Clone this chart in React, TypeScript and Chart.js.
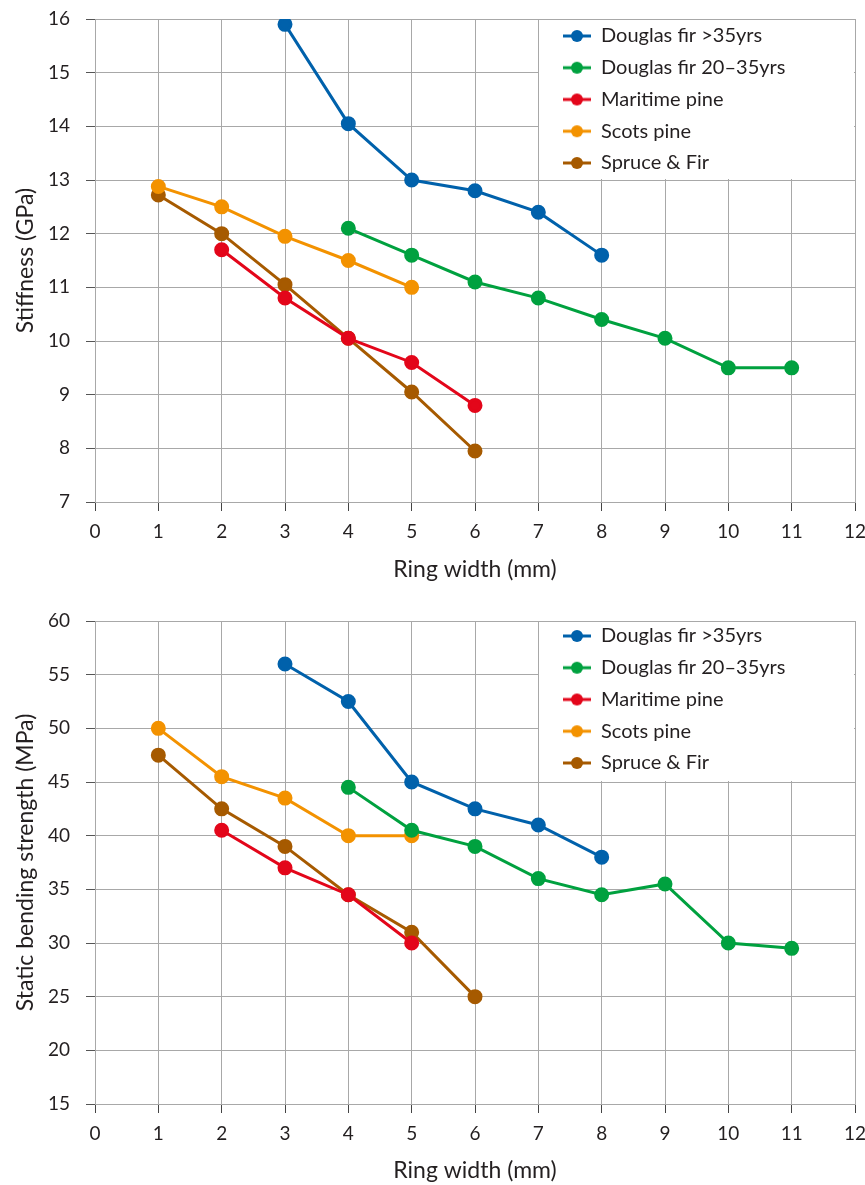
import React, { useEffect, useRef } from 'react';
import { Chart, registerables } from 'chart.js';

Chart.register(...registerables);

// ---------- data ----------
const SERIES_NAMES = ['Douglas fir >35yrs', 'Douglas fir 20–35yrs', 'Maritime pine', 'Scots pine', 'Spruce & Fir'];
const SERIES_COLORS = ['#0061ab', '#00a13f', '#e3061a', '#f39200', '#a65a00'];

const X_TICKS_MIN = 0;
const X_TICKS_MAX = 12;

// Stiffness (GPa) vs ring width (mm)
const STIFF_DF_OLD_X = [3, 4, 5, 6, 7, 8];
const STIFF_DF_OLD_Y = [15.9, 14.05, 13.0, 12.8, 12.4, 11.6];
const STIFF_DF_YOUNG_X = [4, 5, 6, 7, 8, 9, 10, 11];
const STIFF_DF_YOUNG_Y = [12.1, 11.6, 11.1, 10.8, 10.4, 10.05, 9.5, 9.5];
const STIFF_MARITIME_X = [2, 3, 4, 5, 6];
const STIFF_MARITIME_Y = [11.7, 10.8, 10.05, 9.6, 8.8];
const STIFF_SCOTS_X = [1, 2, 3, 4, 5];
const STIFF_SCOTS_Y = [12.88, 12.5, 11.95, 11.5, 11.0];
const STIFF_SPRUCE_X = [1, 2, 3, 4, 5, 6];
const STIFF_SPRUCE_Y = [12.72, 12.0, 11.05, 10.05, 9.05, 7.95];

// Static bending strength (MPa) vs ring width (mm)
const STR_DF_OLD_X = [3, 4, 5, 6, 7, 8];
const STR_DF_OLD_Y = [56, 52.5, 45, 42.5, 41, 38];
const STR_DF_YOUNG_X = [4, 5, 6, 7, 8, 9, 10, 11];
const STR_DF_YOUNG_Y = [44.5, 40.5, 39, 36, 34.5, 35.5, 30, 29.5];
const STR_MARITIME_X = [2, 3, 4, 5];
const STR_MARITIME_Y = [40.5, 37, 34.5, 30];
const STR_SCOTS_X = [1, 2, 3, 4, 5];
const STR_SCOTS_Y = [50, 45.5, 43.5, 40, 40];
const STR_SPRUCE_X = [1, 2, 3, 4, 5, 6];
const STR_SPRUCE_Y = [47.5, 42.5, 39, 34.5, 31, 25];

const TEXT_COLOR = '#231f20';
const FONT = 'Lato';

type PanelProps = {
  top: number;
  height: number;
  padTop: number;
  xAxisHeight: number;
  xTitlePadBottom: number;
  yTitle: string;
  yMin: number;
  yMax: number;
  yStep: number;
  legendBottomValue: number;
  legendRowOffset: number;
  xs: number[][];
  ys: number[][];
};

function makeMarker(color: string): HTMLCanvasElement {
  const c = document.createElement('canvas');
  c.width = 28;
  c.height = 14;
  const ctx = c.getContext('2d')!;
  ctx.strokeStyle = color;
  ctx.lineWidth = 3;
  ctx.beginPath();
  ctx.moveTo(0, 7);
  ctx.lineTo(28, 7);
  ctx.stroke();
  ctx.fillStyle = color;
  ctx.beginPath();
  ctx.arc(14, 7, 6, 0, Math.PI * 2);
  ctx.fill();
  return c;
}

function Panel(p: PanelProps) {
  const ref = useRef<HTMLCanvasElement | null>(null);
  useEffect(() => {
    if (!ref.current) return;
    const markers = SERIES_COLORS.map(makeMarker);
    const legendFont = 20;
    const legendPad = 11.75;
    const placeLegend = {
      id: 'placeLegend',
      afterLayout(chart: any) {
        const lg = chart.legend;
        const ca = chart.chartArea;
        if (!lg) return;
        lg.left = ca.right - 303.75;
        lg.top = ca.top + p.legendRowOffset - legendPad - legendFont / 2;
        lg.right = lg.left + lg.width;
        lg.bottom = lg.top + lg.height;
      },
      beforeDatasetsDraw(chart: any) {
        const ctx = chart.ctx;
        const ca = chart.chartArea;
        const x0 = Math.round(chart.scales.x.getPixelForValue(7)) + 1;
        const y1 = Math.round(chart.scales.y.getPixelForValue(p.legendBottomValue)) - 1;
        ctx.save();
        ctx.fillStyle = '#ffffff';
        ctx.fillRect(x0, Math.round(ca.top) + 1, Math.round(ca.right) - 1 - x0, y1 - Math.round(ca.top) - 1);
        ctx.restore();
        chart.legend.draw();
      },
    };
    const datasets = SERIES_NAMES.map((name, i) => ({
      label: name,
      data: p.xs[i].map((x, j) => ({ x, y: p.ys[i][j] })),
      borderColor: SERIES_COLORS[i],
      backgroundColor: SERIES_COLORS[i],
      pointBackgroundColor: SERIES_COLORS[i],
      pointBorderColor: SERIES_COLORS[i],
      borderWidth: 3,
      pointRadius: 6,
      pointHoverRadius: 6,
      tension: 0,
      fill: false,
    }));
    const chart = new Chart(ref.current, {
      type: 'line',
      data: { datasets },
      plugins: [placeLegend],
      options: {
        animation: false,
        responsive: false,
        events: [],
        layout: { padding: { left: 0, right: 10, top: p.padTop, bottom: 0 } },
        font: { family: FONT },
        scales: {
          x: {
            type: 'linear',
            min: X_TICKS_MIN,
            max: X_TICKS_MAX,
            afterFit: (s: any) => {
              s.height = p.xAxisHeight;
              s.paddingLeft = 0;
              s.paddingRight = 0;
            },
            ticks: {
              stepSize: 1,
              padding: 9,
              color: TEXT_COLOR,
              font: { family: FONT, size: 19 },
              maxRotation: 0,
            },
            grid: { color: '#a8a8a8', lineWidth: 1, tickLength: 9, tickColor: '#444' },
            border: { color: '#a8a8a8', width: 1 },
            title: {
              display: true,
              text: 'Ring width (mm)',
              color: TEXT_COLOR,
              font: { family: FONT, size: 23 },
              padding: { top: 0, bottom: p.xTitlePadBottom },
            },
          },
          y: {
            type: 'linear',
            min: p.yMin,
            max: p.yMax,
            afterFit: (s: any) => {
              s.width = 95;
              s.paddingTop = 0;
              s.paddingBottom = 0;
            },
            ticks: {
              stepSize: p.yStep,
              padding: 16,
              color: TEXT_COLOR,
              font: { family: FONT, size: 19 },
            },
            grid: { color: '#a8a8a8', lineWidth: 1, tickLength: 9, tickColor: '#555' },
            border: { color: '#a8a8a8', width: 1 },
            title: {
              display: true,
              text: p.yTitle,
              color: TEXT_COLOR,
              font: { family: FONT, size: 23 },
              padding: { top: 12, bottom: 0 },
            },
          },
        },
        plugins: {
          tooltip: { enabled: false },
          legend: {
            position: 'chartArea' as any,
            align: 'start',
            labels: {
              usePointStyle: true,
              pointStyleWidth: 28,
              padding: legendPad,
              color: TEXT_COLOR,
              font: { family: FONT, size: legendFont },
              generateLabels: (chart: any) => {
                const items = (Chart.defaults.plugins.legend.labels as any).generateLabels(chart);
                return items.map((it: any, i: number) => ({ ...it, pointStyle: markers[i], lineWidth: 0 }));
              },
            },
          },
        },
      } as any,
    });
    return () => chart.destroy();
  }, []);
  return (
    <canvas
      ref={ref}
      width={865}
      height={p.height}
      style={{ position: 'absolute', left: 0, top: p.top, width: 865, height: p.height, display: 'block' }}
    />
  );
}

export default function App() {
  return (
    <div style={{ position: 'absolute', left: 0, top: 0, width: 865, height: 1185, background: '#fff' }}>
      <Panel
        top={0}
        height={590}
        padTop={19}
        xAxisHeight={88}
        xTitlePadBottom={7}
        yTitle="Stiffness (GPa)"
        yMin={7}
        yMax={16}
        yStep={1}
        legendBottomValue={13}
        legendRowOffset={17}
        xs={[STIFF_DF_OLD_X, STIFF_DF_YOUNG_X, STIFF_MARITIME_X, STIFF_SCOTS_X, STIFF_SPRUCE_X]}
        ys={[STIFF_DF_OLD_Y, STIFF_DF_YOUNG_Y, STIFF_MARITIME_Y, STIFF_SCOTS_Y, STIFF_SPRUCE_Y]}
      />
      <Panel
        top={600}
        height={585}
        padTop={21}
        xAxisHeight={81}
        xTitlePadBottom={1}
        yTitle="Static bending strength (MPa)"
        yMin={15}
        yMax={60}
        yStep={5}
        legendBottomValue={45}
        legendRowOffset={15}
        xs={[STR_DF_OLD_X, STR_DF_YOUNG_X, STR_MARITIME_X, STR_SCOTS_X, STR_SPRUCE_X]}
        ys={[STR_DF_OLD_Y, STR_DF_YOUNG_Y, STR_MARITIME_Y, STR_SCOTS_Y, STR_SPRUCE_Y]}
      />
    </div>
  );
}
